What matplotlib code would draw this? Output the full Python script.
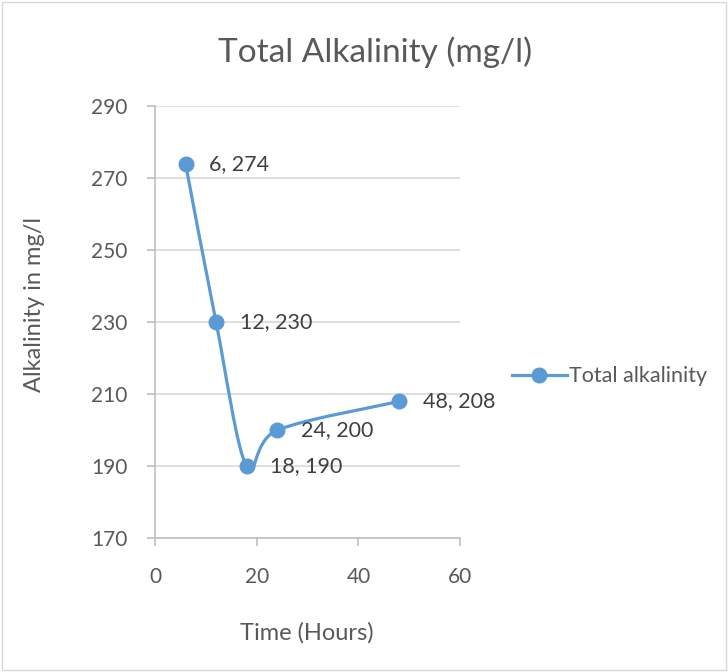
import numpy as np
import matplotlib.pyplot as plt
from matplotlib.path import Path
from matplotlib.patches import PathPatch, Rectangle
from matplotlib.lines import Line2D

hours = [6, 12, 18, 24, 48]
alkalinity = [274, 230, 190, 200, 208]

blue = '#5B9BD5'
grey = '#595959'
plt.rcParams['font.family'] = ['Lato', 'DejaVu Sans']

fig = plt.figure(figsize=(7.28, 6.72), dpi=100)
ax = fig.add_axes([0.213, 0.199, 0.419, 0.643])

# Excel-style smoothed line: cubic bezier (Catmull-Rom) through the points
pts = np.column_stack([hours, alkalinity]).astype(float)
verts = [pts[0]]
codes = [Path.MOVETO]
n = len(pts)
for i in range(n - 1):
    p0 = pts[i - 1] if i > 0 else pts[i]
    p1 = pts[i]
    p2 = pts[i + 1]
    p3 = pts[i + 2] if i + 2 < n else pts[i + 1]
    c1 = p1 + (p2 - p0) / 6
    c2 = p2 - (p3 - p1) / 6
    verts += [c1, c2, p2]
    codes += [Path.CURVE4] * 3
ax.add_patch(PathPatch(Path(verts, codes), facecolor='none', edgecolor=blue,
                       lw=2.3, zorder=3, capstyle='round', joinstyle='round'))
ax.plot(hours, alkalinity, 'o', color=blue, ms=10.5, zorder=4)

for x, y in zip(hours, alkalinity):
    ax.annotate(f'{x}, {y}', (x, y), xytext=(17, 0), textcoords='offset points',
                va='center', ha='left', fontsize=15.5, color='#404040')

ax.set_xlim(0, 60)
ax.set_ylim(170, 290)
ax.set_xticks([0, 20, 40, 60])
ax.set_yticks(range(170, 291, 20))
ax.grid(axis='y', color='#D9D9D9', lw=1.2)
ax.set_axisbelow(True)
for s in ['top', 'right']:
    ax.spines[s].set_visible(False)
for s in ['left', 'bottom']:
    ax.spines[s].set_color('#BFBFBF')
    ax.spines[s].set_linewidth(1.2)
ax.tick_params(colors='#BFBFBF', labelcolor=grey, labelsize=15, length=6, width=1.2)
ax.tick_params(axis='y', pad=14)
ax.tick_params(axis='x', pad=15)

ax.set_xlabel('Time (Hours)', fontsize=17, color=grey)
ax.set_ylabel('Alkalinity in mg/l', fontsize=17, color=grey)
ax.xaxis.set_label_coords(0.498, -0.195)
ax.yaxis.set_label_coords(-0.36, 0.54)
fig.text(0.515, 0.922, 'Total Alkalinity (mg/l)', ha='center', va='center', fontsize=24, color=grey)

handle = Line2D([], [], color=blue, lw=2.3, marker='o', ms=10.5)
fig.legend([handle], ['Total alkalinity'], loc='center left', bbox_to_anchor=(0.676, 0.44),
           frameon=False, fontsize=15.5, labelcolor=grey, handlelength=2.6, handletextpad=0.05)

fig.patches.append(Rectangle((0.003, 0.003), 0.994, 0.994, transform=fig.transFigure,
                             fill=False, edgecolor='#D9D9D9', lw=1))

fig.savefig('out.png', dpi=100)
